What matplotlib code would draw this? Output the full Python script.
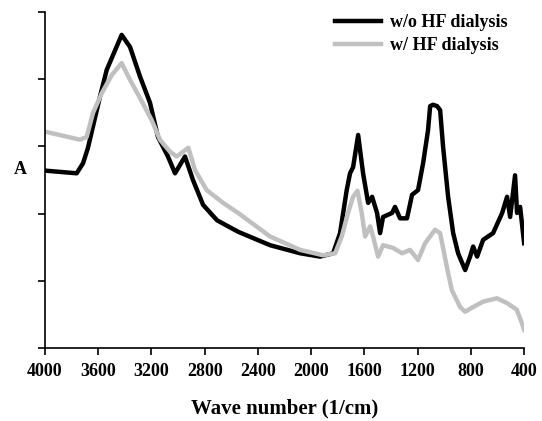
import matplotlib
matplotlib.use("Agg")
import matplotlib.pyplot as plt

# absorbance (arbitrary units, axis 0..5)
wn_black = [4000, 3762, 3714, 3677, 3587, 3536, 3424, 3361, 3286, 3211, 3151, 3076, 3023,
            2948, 2888, 2812, 2707, 2549, 2309, 2083, 1933, 1835, 1783, 1733, 1708, 1685,
            1647, 1610, 1572, 1542, 1505, 1482, 1460, 1392, 1370, 1332, 1280, 1242, 1197,
            1159, 1122, 1106, 1084, 1054, 1031, 1009, 971, 933, 896, 843, 806, 783, 753,
            708, 633, 565, 528, 505, 468, 453, 430, 400]
a_black = [2.64, 2.60, 2.75, 2.98, 3.74, 4.14, 4.66, 4.48, 4.04, 3.65, 3.14, 2.85, 2.60,
           2.85, 2.50, 2.13, 1.90, 1.73, 1.53, 1.41, 1.36, 1.41, 1.71, 2.35, 2.60, 2.69,
           3.17, 2.60, 2.16, 2.25, 2.01, 1.71, 1.95, 2.01, 2.10, 1.93, 1.93, 2.28, 2.35,
           2.75, 3.24, 3.60, 3.62, 3.60, 3.54, 3.00, 2.25, 1.71, 1.41, 1.16, 1.36, 1.51, 1.36,
           1.61, 1.71, 2.01, 2.25, 1.95, 2.57, 2.01, 2.10, 1.56]

wn_gray = [4000, 3737, 3687, 3639, 3574, 3499, 3424, 3361, 3286, 3198, 3136, 3060, 3010,
           2923, 2873, 2785, 2662, 2549, 2309, 2083, 1910, 1820, 1770, 1723, 1685, 1652,
           1620, 1595, 1557, 1535, 1497, 1460, 1385, 1317, 1257, 1197, 1144, 1069, 1031,
           981, 943, 881, 843, 783, 708, 605, 530, 455, 417, 400]
a_gray = [3.22, 3.10, 3.14, 3.50, 3.79, 4.06, 4.24, 3.99, 3.72, 3.39, 3.10, 2.92, 2.85,
          2.98, 2.65, 2.35, 2.16, 2.01, 1.66, 1.46, 1.38, 1.41, 1.66, 2.01, 2.25, 2.34,
          2.01, 1.66, 1.81, 1.66, 1.36, 1.53, 1.49, 1.41, 1.46, 1.31, 1.56, 1.76, 1.71,
          1.21, 0.86, 0.61, 0.54, 0.61, 0.69, 0.74, 0.67, 0.57, 0.37, 0.27]

x_ticks = [4000, 3600, 3200, 2800, 2400, 2000, 1600, 1200, 800, 400]

plt.rcParams["font.family"] = "Liberation Serif"
plt.rcParams["font.weight"] = "bold"

fig = plt.figure(figsize=(5.42, 4.21), dpi=100)
ax = fig.add_axes([0.083, 0.1734, 0.884, 0.798])

ax.plot(wn_black, a_black, color="black", lw=3.2, label="w/o HF dialysis", solid_joinstyle="round")
ax.plot(wn_gray, a_gray, color="#c0c0c0", lw=3.2, label="w/ HF dialysis", solid_joinstyle="round")

ax.set_xlim(4000, 400)
ax.set_ylim(0, 5)
ax.set_xticks(x_ticks)
ax.set_xticklabels([str(t) for t in x_ticks], fontsize=13, fontweight="bold")
ax.set_yticks(range(6))
ax.set_yticklabels([])
ax.tick_params(direction="out", length=5, width=1.2, pad=6)
for s in ["top", "right"]:
    ax.spines[s].set_visible(False)
for s in ["left", "bottom"]:
    ax.spines[s].set_linewidth(1.2)

ax.set_xlabel("Wave number (1/cm)", fontsize=15, fontweight="bold", labelpad=13)
fig.text(0.037, 1 - 170 / 421, "A", fontsize=13, fontweight="bold", ha="center", va="center")

leg = ax.legend(loc="upper right", bbox_to_anchor=(0.981, 1.015), frameon=False,
                fontsize=13, handlelength=2.55, labelspacing=0.32, borderaxespad=0.0,
                handletextpad=0.5)
for t in leg.get_texts():
    t.set_fontweight("bold")

fig.savefig("out.png", dpi=100)
